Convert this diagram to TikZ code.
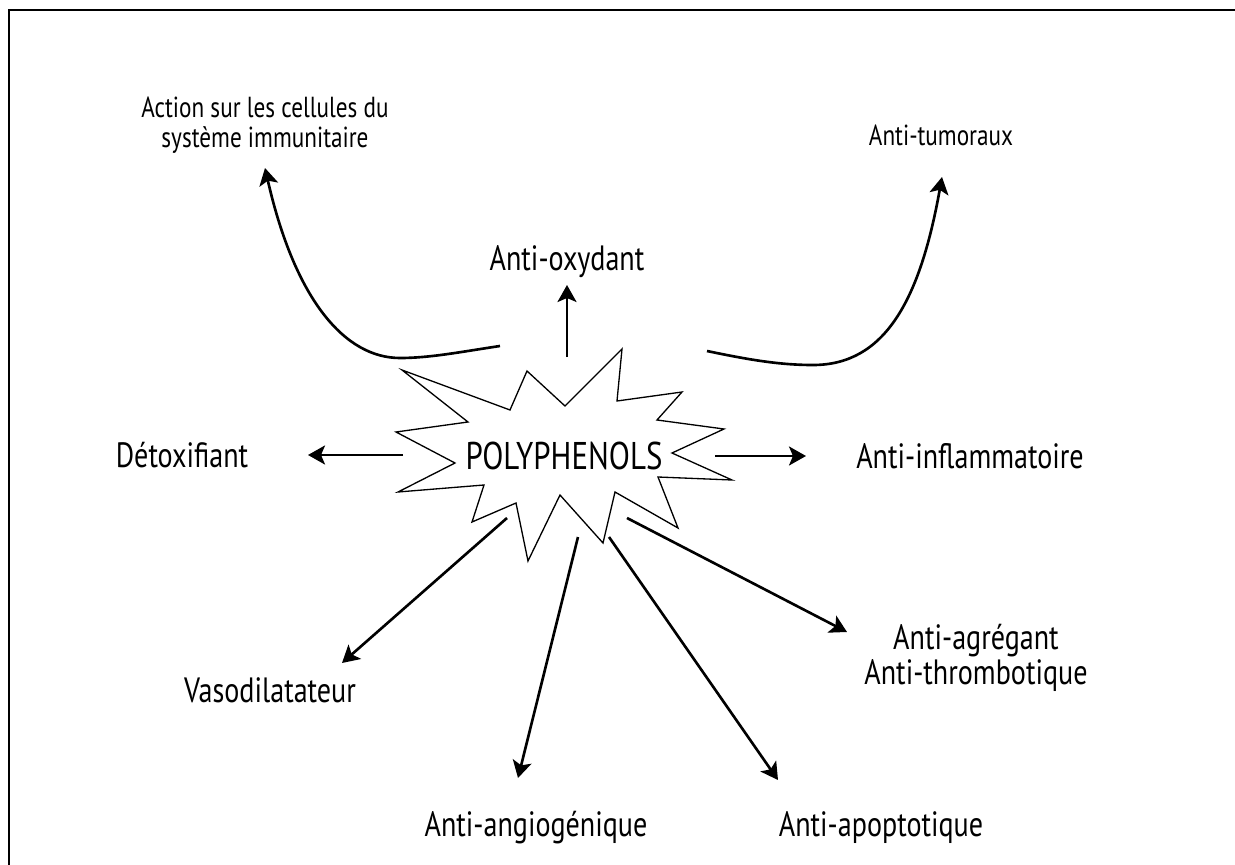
\documentclass[tikz,border=0pt]{standalone}
\usepackage{fontspec}
\setmainfont[FakeStretch=0.8]{PT Sans}
\usepackage{tikz}
\usetikzlibrary{arrows.meta,positioning}

\begin{document}
\begin{tikzpicture}[
    x=0.02cm, y=-0.02cm,
    effect/.style={inner sep=0pt, align=center, font=\fontsize{20}{20}\selectfont},
    smalleffect/.style={inner sep=0pt, align=center, font=\fontsize{16.5}{17}\selectfont},
    centerword/.style={inner sep=0pt, font=\fontsize{22}{26}\selectfont},
    link/.style={-{Stealth[length=0.34cm, width=0.38cm, inset=0.08cm]}, line width=1.5pt},
    burst/.style={line width=0.75pt, line join=miter}
]
  \useasboundingbox (0,0) rectangle (1235,865);
  % frame
  \draw[line width=1.7pt] (1235,10) -- (9,10) -- (9,865);

  % centre
  \node[centerword] (poly) at (564,456) {POLYPHENOLS};
  \draw[burst] (402,370) -- (510,410) -- (527,371) -- (565,406) -- (622,349)
    -- (617,401) -- (682,392) -- (657,420) -- (724,429) -- (672,453)
    -- (732,480) -- (658,477) -- (678,528) -- (615,492) -- (603,543)
    -- (560,495) -- (528,561) -- (516,503) -- (472,522) -- (484,485)
    -- (398,492) -- (455,463) -- (396,432) -- (468,422) -- cycle;

  % effects
  \node[smalleffect] (immune) at (265,125) {Action sur les cellules du\\système immunitaire};
  \node[smalleffect] (tumor) at (941,135) {Anti-tumoraux};
  \node[effect] (oxydant) at (567,262) {Anti-oxydant};
  \node[effect] (detox) at (182,455) {Détoxifiant};
  \node[effect] (inflam) at (970,456) {Anti-inflammatoire};
  \node[effect] (vaso) at (270,690) {Vasodilatateur};
  \node[effect] (agreg) at (976,658) {Anti-agrégant\\Anti-thrombotique};
  \node[effect] (angio) at (536,828) {Anti-angiogénique};
  \node[effect] (apopt) at (881,828) {Anti-apoptotique};

  % arrow ends
  \coordinate (immune-s) at (500,346);
  \coordinate (immune-t) at (265,168);
  \coordinate (tumor-s) at (707,351);
  \coordinate (tumor-t) at (942,177);
  \coordinate (oxydant-s) at (567,357);
  \coordinate (oxydant-t) at (567,285);
  \coordinate (detox-s) at (403,455);
  \coordinate (detox-t) at (308,455);
  \coordinate (inflam-s) at (715,456);
  \coordinate (inflam-t) at (806,456);
  \coordinate (vaso-s) at (507,518);
  \coordinate (vaso-t) at (342,663);
  \coordinate (agreg-s) at (627,518);
  \coordinate (agreg-t) at (847,632);
  \coordinate (angio-s) at (578,537);
  \coordinate (angio-t) at (518,778);
  \coordinate (apopt-s) at (609,537);
  \coordinate (apopt-t) at (778,780);

  \draw[link] (immune-s) .. controls (460,352) and (430,358) .. (400,358)
    .. controls (345,358) and (295,300) .. (immune-t);
  \draw[link] (tumor-s) .. controls (750,360) and (780,365) .. (813,365)
    .. controls (885,365) and (920,300) .. (tumor-t);
  \draw[link] (oxydant-s) -- (oxydant-t);
  \draw[link] (detox-s) -- (detox-t);
  \draw[link] (inflam-s) -- (inflam-t);
  \draw[link] (vaso-s) -- (vaso-t);
  \draw[link] (agreg-s) -- (agreg-t);
  \draw[link] (angio-s) -- (angio-t);
  \draw[link] (apopt-s) -- (apopt-t);
\end{tikzpicture}
\end{document}
